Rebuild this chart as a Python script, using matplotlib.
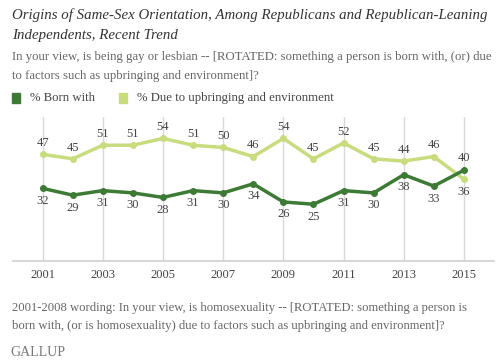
import matplotlib
matplotlib.use("Agg")
import matplotlib.pyplot as plt
from matplotlib.patches import Rectangle

# données
years = [2001, 2002, 2003, 2004, 2005, 2006, 2007, 2008, 2009, 2010, 2011, 2012, 2013, 2014, 2015]
born_with = [32, 29, 31, 30, 28, 31, 30, 34, 26, 25, 31, 30, 38, 33, 40]
upbringing = [47, 45, 51, 51, 54, 51, 50, 46, 54, 45, 52, 45, 44, 46, 36]
tick_years = [2001, 2003, 2005, 2007, 2009, 2011, 2013, 2015]

dark = "#3d7a35"
light = "#c8dc7e"
serif = "Liberation Serif"

fig = plt.figure(figsize=(5, 3.64), dpi=100)
ax = fig.add_axes([0.025, 0.283, 0.963, 0.396])

for yr in tick_years:
    ax.axvline(yr, color="#d9d9d9", lw=1, zorder=0)

ax.plot(years, upbringing, color=light, lw=2.5, marker="o", ms=4, zorder=2)
ax.plot(years, born_with, color=dark, lw=2.5, marker="o", ms=4, zorder=3)

# étiquettes
for yr, b, u in zip(years, born_with, upbringing):
    if b > u:
        b_off, u_off = 9, -9
    else:
        b_off, u_off = -9, 8
    ax.annotate(str(b), (yr, b), xytext=(0, b_off), textcoords="offset points",
                ha="center", va="center", fontsize=9, color="#444444", family=serif)
    ax.annotate(str(u), (yr, u), xytext=(0, u_off), textcoords="offset points",
                ha="center", va="center", fontsize=9, color="#444444", family=serif)

ax.set_xlim(2000, 2016)
ax.set_ylim(0, 63.5)
ax.set_xticks(tick_years)
ax.set_xticklabels([str(t) for t in tick_years], family=serif, fontsize=9, color="#444444")
ax.set_yticks([])
ax.tick_params(axis="x", length=0, pad=6)
for s in ["top", "left", "right"]:
    ax.spines[s].set_visible(False)
ax.spines["bottom"].set_color("#d0d0d0")
ax.spines["bottom"].set_linewidth(1.2)

# Titre
fig.text(0.024, 1 - 15 / 364, "Origins of Same-Sex Orientation, Among Republicans and Republican-Leaning",
         family=serif, style="italic", fontsize=10.7, color="#333333", va="center")
fig.text(0.024, 1 - 35 / 364, "Independents, Recent Trend",
         family=serif, style="italic", fontsize=10.7, color="#333333", va="center")
fig.text(0.024, 1 - 57 / 364, "In your view, is being gay or lesbian -- [ROTATED: something a person is born with, (or) due",
         family=serif, fontsize=9.2, color="#666666", va="center")
fig.text(0.024, 1 - 76 / 364, "to factors such as upbringing and environment]?",
         family=serif, fontsize=9.2, color="#666666", va="center")

# Légende
fig.patches.append(Rectangle((12 / 500, 1 - 103 / 364), 8 / 500, 10 / 364,
                             transform=fig.transFigure, color=dark, figure=fig))
fig.text(30 / 500, 1 - 98 / 364, "% Born with", family=serif, fontsize=9.2,
         color="#444444", va="center")
fig.patches.append(Rectangle((119 / 500, 1 - 103 / 364), 8 / 500, 10 / 364,
                             transform=fig.transFigure, color=light, figure=fig))
fig.text(137 / 500, 1 - 98 / 364, "% Due to upbringing and environment", family=serif,
         fontsize=9.2, color="#444444", va="center")

# Note
fig.text(0.024, 1 - 308 / 364, "2001-2008 wording: In your view, is homosexuality -- [ROTATED: something a person is",
         family=serif, fontsize=9.1, color="#666666", va="center")
fig.text(0.024, 1 - 326 / 364, "born with, (or is homosexuality) due to factors such as upbringing and environment]?",
         family=serif, fontsize=9.1, color="#666666", va="center")
fig.text(0.02, 1 - 353 / 364, "GALLUP", family=serif, fontsize=10, color="#777777", va="center")

fig.savefig("out.png", dpi=100, facecolor="white")
